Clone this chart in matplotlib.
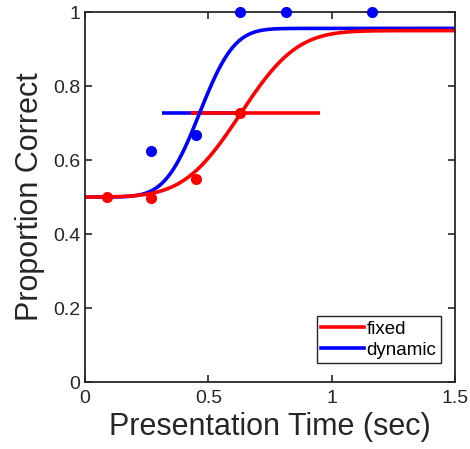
import math
import numpy as np
import matplotlib
matplotlib.use('Agg')
import matplotlib.pyplot as plt

plt.rcParams['font.family'] = ['Liberation Sans', 'DejaVu Sans']

# Dados observados
tempo_fixed = [0.087, 0.268, 0.448, 0.630]
prop_fixed = [0.501, 0.498, 0.548, 0.728]
tempo_dynamic = [0.268, 0.448, 0.630, 0.813, 1.164]
prop_dynamic = [0.625, 0.667, 1.0, 1.0, 1.0]

# Parametros do ajuste (normal cumulativa)
mu_fixed, sigma_fixed, topo_fixed = 0.63, 0.18, 0.950
mu_dynamic, sigma_dynamic, topo_dynamic = 0.465, 0.11, 0.956

# Linhas de limiar
limiar_y = 0.727
limiar_fixed = [0.428, 0.952]
limiar_dynamic = [0.312, 0.63]


def curva(x, mu, sigma, topo):
    return [0.5 + (topo - 0.5) * 0.5 * (1 + math.erf((v - mu) / (sigma * math.sqrt(2)))) for v in x]


x = np.linspace(0, 1.5, 400)

fig = plt.figure(figsize=(4.7, 4.49), dpi=100)
ax = fig.add_axes([0.181, 0.149, 0.787, 0.824])

ax.plot(limiar_dynamic, [limiar_y, limiar_y], c='blue', lw=2.6, solid_capstyle='butt')
ax.plot(limiar_fixed, [limiar_y, limiar_y], c='red', lw=2.6, solid_capstyle='butt')
ax.plot(x, curva(x, mu_dynamic, sigma_dynamic, topo_dynamic), c='blue', lw=2.6, label='dynamic')
ax.plot(x, curva(x, mu_fixed, sigma_fixed, topo_fixed), c='red', lw=2.6, label='fixed')
ax.plot(tempo_fixed, prop_fixed, 'o', c='red', ms=7, clip_on=False)
ax.plot(tempo_dynamic, prop_dynamic, 'o', c='blue', ms=7, clip_on=False, zorder=5)

ax.set_xlim(0, 1.5)
ax.set_ylim(0, 1)
ax.set_xticks([0, 0.5, 1, 1.5])
ax.set_xticklabels(['0', '0.5', '1', '1.5'])
ax.set_yticks([0, 0.2, 0.4, 0.6, 0.8, 1])
ax.set_yticklabels(['0', '0.2', '0.4', '0.6', '0.8', '1'])
ax.tick_params(direction='in', top=True, right=True, labelsize=14, length=5, width=1.2, colors='#262626')
ax.tick_params(axis='x', pad=6)
for s in ax.spines.values():
    s.set_linewidth(1.3)
    s.set_color('#262626')

ax.set_xlabel('Presentation Time (sec)', fontsize=22, color='#262626', labelpad=3)
ax.set_ylabel('Proportion Correct', fontsize=22, color='#262626', labelpad=6)

h, l = ax.get_legend_handles_labels()
leg = ax.legend(h[::-1], l[::-1], loc='lower right', fontsize=13.5, handlelength=2.3, handletextpad=0.1,
                borderpad=0.25, labelspacing=0.2, fancybox=False, framealpha=1, edgecolor='#262626',
                borderaxespad=0, bbox_to_anchor=(0.962, 0.051))
leg.get_frame().set_linewidth(1.0)

fig.savefig('out.png', dpi=100)
